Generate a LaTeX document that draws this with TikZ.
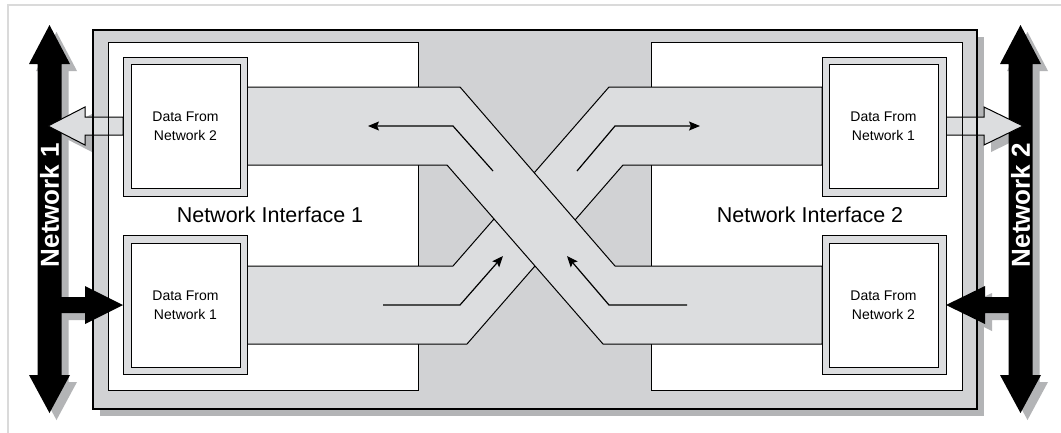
\documentclass[tikz,border=0pt]{standalone}
\usepackage{fontspec}
\setmainfont{Liberation Sans}
\usetikzlibrary{arrows.meta}
\definecolor{bggray}{HTML}{D1D2D4}
\definecolor{bandgray}{HTML}{DCDDDF}
\definecolor{shadowgray}{HTML}{B3B4B6}
\definecolor{pagegray}{HTML}{DADADA}
\begin{document}
\begin{tikzpicture}[
    x=1pt, y=-1pt,
    thinline/.style={line width=1pt},
    shadow/.style={fill=shadowgray, shift={(7,7)}},
    frame/.style={rectangle, draw, line width=1pt, fill=bandgray, minimum width=124pt, minimum height=139pt, inner sep=0pt},
    databox/.style={rectangle, draw, line width=1pt, fill=white, minimum width=109pt, minimum height=124pt, inner sep=0pt, align=center, font=\fontsize{14}{19}\selectfont},
    ifacetext/.style={font=\fontsize{21.5}{24}\selectfont},
    netlabel/.style={text=white, font=\bfseries\fontsize{26}{28}\selectfont, rotate=90},
    band/.style={fill=bandgray, draw, line width=1pt},
    flow/.style={line width=1.2pt, -{Stealth[length=11pt,width=9pt,inset=2pt]}}
]
    \useasboundingbox (0,0) rectangle (1061,432);
    \clip (0,0) rectangle (1061,432);
    \fill[white] (0,0) rectangle (1061,432);
    \draw[pagegray, line width=1.5pt] (8,5) rectangle (1075,450);

    % Shadows
    \fill[shadowgray] (100,37) rectangle (984,416);
    \fill[shadow] (49.5,25) -- (70,64) -- (61.5,64) -- (61.5,375) -- (70,375) -- (49.5,413) -- (29,375) -- (37.5,375) -- (37.5,64) -- (29,64) -- cycle;
    \fill[shadow] (1020.5,25) -- (1041,64) -- (1032.5,64) -- (1032.5,375) -- (1041,375) -- (1020.5,413) -- (1000,375) -- (1008.5,375) -- (1008.5,64) -- (1000,64) -- cycle;
    \fill[shadow] (123,117) -- (85,117) -- (85,107) -- (48,126) -- (85,145) -- (85,135) -- (123,135) -- cycle;
    \fill[shadow] (55,297) -- (85,297) -- (85,286) -- (123,305) -- (85,324) -- (85,313) -- (55,313) -- cycle;
    \fill[shadow] (946,117) -- (984,117) -- (984,107) -- (1023,126) -- (984,145) -- (984,135) -- (946,135) -- cycle;
    \fill[shadow] (1015,297) -- (985,297) -- (985,286) -- (946,305) -- (985,324) -- (985,313) -- (1015,313) -- cycle;

    % Outer box and panels
    \fill[bggray] (93,30) rectangle (977,409);
    \draw[thinline, fill=white] (108,42) rectangle (418,390);
    \draw[thinline, fill=white] (651,42) rectangle (962,390);

    % Network arrows
    \fill (49.5,25) -- (70,64) -- (61.5,64) -- (61.5,375) -- (70,375) -- (49.5,413) -- (29,375) -- (37.5,375) -- (37.5,64) -- (29,64) -- cycle;
    \fill (1020.5,25) -- (1041,64) -- (1032.5,64) -- (1032.5,375) -- (1041,375) -- (1020.5,413) -- (1000,375) -- (1008.5,375) -- (1008.5,64) -- (1000,64) -- cycle;
    \draw[thinline, fill=bandgray] (123,117) -- (85,117) -- (85,107) -- (48,126) -- (85,145) -- (85,135) -- (123,135) -- cycle;
    \fill (55,297) -- (85,297) -- (85,286) -- (123,305) -- (85,324) -- (85,313) -- (55,313) -- cycle;
    \draw[thinline, fill=bandgray] (946,117) -- (984,117) -- (984,107) -- (1023,126) -- (984,145) -- (984,135) -- (946,135) -- cycle;
    \fill (1015,297) -- (985,297) -- (985,286) -- (946,305) -- (985,324) -- (985,313) -- (1015,313) -- cycle;

    % Borders over the arrows
    \draw[line width=2.5pt] (93,30) rectangle (977,409);
    \draw[thinline] (108,42) -- (108,390);
    \draw[thinline] (962,42) -- (962,390);

    % Bands
    \draw[band] (247,266) -- (453,266) -- (609,87) -- (822,87) -- (822,165) -- (623,165) -- (467,344) -- (247,344) -- cycle;
    \draw[band] (247,87) -- (460,87) -- (615,266) -- (822,266) -- (822,344) -- (603,344) -- (447,165) -- (247,165) -- cycle;

    % Nodes
    \node[frame] (fout1) at (185,126.5) {};
    \node[databox] (out1) at (185.5,126) {Data From\\Network 2};
    \node[frame] (fin1) at (185,305) {};
    \node[databox] (in1) at (185.5,305) {Data From\\Network 1};
    \node[frame] (fout2) at (884,126.5) {};
    \node[databox] (out2) at (883.5,126) {Data From\\Network 1};
    \node[frame] (fin2) at (884,305) {};
    \node[databox] (in2) at (883.5,305) {Data From\\Network 2};

    \node[ifacetext] (iface1) at (270,215) {Network Interface 1};
    \node[ifacetext] (iface2) at (810,215) {Network Interface 2};
    \node[netlabel] (net1) at (49.5,205) {Network 1};
    \node[netlabel] (net2) at (1020.5,205) {Network 2};

    % Arrows
    \draw[flow] (493,171) -- (453,126) -- (368,126);
    \draw[flow] (687,305) -- (609,305) -- (567,256);
    \draw[flow] (383,305) -- (460,305) -- (503,256);
    \draw[flow] (577,171) -- (615,126) -- (700,126);
\end{tikzpicture}
\end{document}
